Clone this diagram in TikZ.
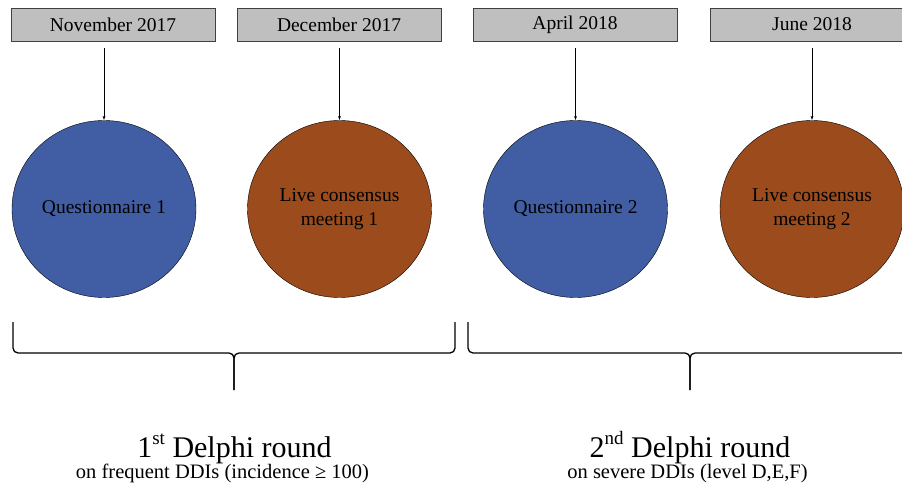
\documentclass[tikz,border=0pt]{standalone}
\usepackage{fontspec}
\setmainfont{LiberationSerif}[Extension=.ttf, UprightFont=*-Regular, BoldFont=*-Bold,
  ItalicFont=*-Italic, BoldItalicFont=*-BoldItalic]
\usepackage{xcolor}
\usetikzlibrary{shapes.geometric}
\definecolor{qblue}{RGB}{65,94,164}
\definecolor{mbrown}{RGB}{155,75,28}
\definecolor{boxgray}{RGB}{191,191,191}

\tikzset{
  datebox/.style = {draw=black!75, fill=boxgray, minimum width=204pt, minimum height=33pt,
    inner sep=0pt, font=\fontsize{19.5}{22}\selectfont},
  phase/.style = {ellipse, draw=black, thin, minimum width=184pt, minimum height=177pt,
    align=center, inner sep=0pt, font=\fontsize{19.5}{24}\selectfont},
  brace/.style = {line width=1.3pt, rounded corners=5pt}
}
\newcommand{\sups}[1]{\raisebox{0.42em}{\fontsize{19}{20}\selectfont #1}}

\begin{document}
\begin{tikzpicture}[x=1pt, y=-1pt]
      \useasboundingbox (0,0) rectangle (902,492);
      \clip (0,0) rectangle (902,492);
      % Dates
      \node[datebox] (nov) at (113,24.5) {November 2017};
      \node[datebox] (dec) at (339,24.5) {December 2017};
      \node[datebox] (apr) at (575,24.5) {April 2018};
      \node[datebox] (jun) at (812,24.5) {June 2018};
      % Steps
      \node[phase, fill=qblue] (quest1) at (104,209) {Questionnaire 1};
      \node[phase, fill=mbrown] (meet1) at (339.5,209) {Live consensus\\meeting 1};
      \node[phase, fill=qblue] (quest2) at (575.5,209) {Questionnaire 2};
      \node[phase, fill=mbrown] (meet2) at (812,209) {Live consensus\\meeting 2};
      % Arrows from the dates
      \draw[->, >=latex, shorten <=7pt] (quest1 |- nov.south) -- (quest1.north);
      \draw[->, >=latex, shorten <=7pt] (meet1 |- dec.south) -- (meet1.north);
      \draw[->, >=latex, shorten <=7pt] (quest2 |- apr.south) -- (quest2.north);
      \draw[->, >=latex, shorten <=7pt] (meet2 |- jun.south) -- (meet2.north);
      % Braces
      \coordinate (tip1) at (234,390);
      \coordinate (tip2) at (690,390);
      \draw[brace] (13,322) -- (13,353) -- (tip1 |- 0,353) -- (tip1);
      \draw[brace] (455,322) -- (455,353) -- (tip1 |- 0,353) -- (tip1);
      \draw[brace] (468,322) -- (468,353) -- (tip2 |- 0,353) -- (tip2);
      \draw[brace] (912,322) -- (912,353) -- (tip2 |- 0,353) -- (tip2);
      % Rounds
      \node[anchor=base, font=\fontsize{30}{34}\selectfont] (round1) at (234.5,457) {1\sups{st} Delphi round};
      \node[anchor=base, font=\fontsize{20.5}{24}\selectfont] (sub1) at (222.5,478) {on frequent DDIs (incidence ≥ 100)};
      \node[anchor=base, font=\fontsize{30}{34}\selectfont] (round2) at (690,457) {2\sups{nd} Delphi round};
      \node[anchor=base, font=\fontsize{20.5}{24}\selectfont] (sub2) at (687.5,478) {on severe DDIs (level D,E,F)};
    \end{tikzpicture}
\end{document}
